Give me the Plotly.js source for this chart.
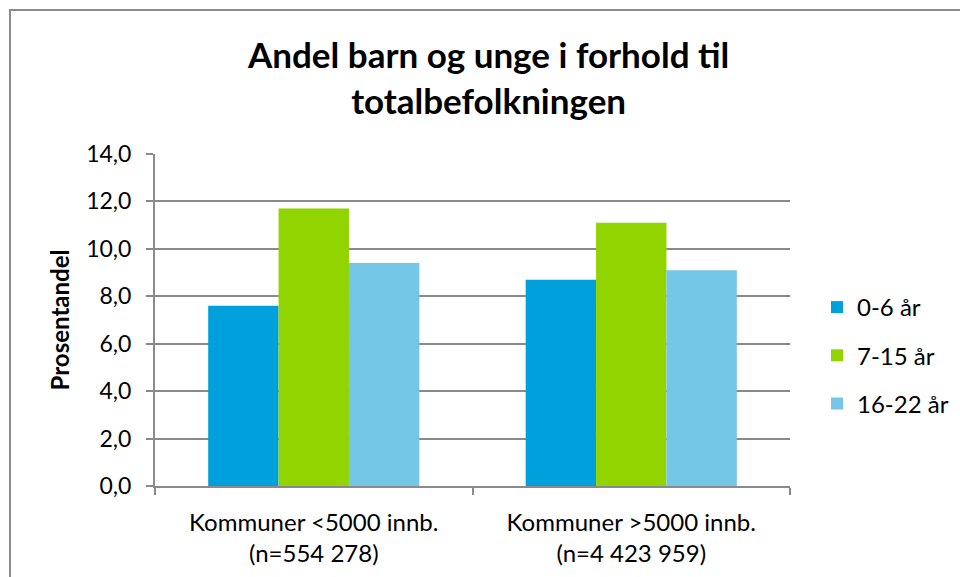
<!DOCTYPE html>
<html>
<head>
<meta charset="utf-8">
<script src="https://cdn.plot.ly/plotly-3.0.1.min.js"></script>
<style>
  html, body { margin: 0; padding: 0; background: #fff; overflow: hidden; }
  #frame { position: absolute; left: 9px; top: 9px; width: 980px; height: 600px;
           border-left: 2px solid #8a8a8a; border-top: 2px solid #8a8a8a; }
  #chart { position: absolute; left: 0; top: 0; width: 960px; height: 577px; }
</style>
</head>
<body>
<div id="frame"></div>
<div id="chart"></div>
<script>
const categories = ["Kommuner &lt;5000 innb.<br>(n=554 278)", "Kommuner &gt;5000 innb.<br>(n=4 423 959)"];
const seriesNames = ["0-6 år", "7-15 år", "16-22 år"];
const values06 = [7.6, 8.7];
const values715 = [11.7, 11.1];
const values1622 = [9.4, 9.1];
const colors = ["#00a0dd", "#92d400", "#73c6e5"];
const yTicks = [0, 2, 4, 6, 8, 10, 12, 14];

const allValues = [values06, values715, values1622];
const traces = allValues.map((v, i) => ({
  type: "bar",
  name: seriesNames[i],
  x: categories,
  y: v,
  legendgroup: "g" + i,
  marker: { color: colors[i], line: { width: 0 } },
  hoverinfo: "skip"
}));

const font = "Lato, 'Open Sans', sans-serif";
const layout = {
  width: 960, height: 577,
  paper_bgcolor: "rgba(0,0,0,0)",
  plot_bgcolor: "rgba(0,0,0,0)",
  margin: { l: 155, r: 170, t: 154, b: 91 },
  font: { family: font, color: "#000" },
  separators: ",.",
  barmode: "group",
  bargap: 0.335,
  bargroupgap: 0,
  title: {
    text: "<b>Andel barn og unge i forhold til<br>totalbefolkningen</b>",
    font: { family: font, size: 35, color: "#000" },
    x: 0.509, xref: "container", xanchor: "center",
    y: 1 - 68 / 577, yref: "container", yanchor: "middle"
  },
  xaxis: {
    type: "category",
    showline: true, linecolor: "#8a8a8a", linewidth: 2,
    ticks: "outside", tickson: "boundaries", ticklen: 7, tickcolor: "#8a8a8a", tickwidth: 2,
    ticklabelstandoff: 14,
    tickfont: { family: font, size: 24, color: "#000" },
    showgrid: false
  },
  yaxis: {
    range: [0, 14],
    tickvals: yTicks,
    tickformat: ".1f",
    showline: true, linecolor: "#8a8a8a", linewidth: 2,
    ticks: "outside", ticklen: 7, tickcolor: "#8a8a8a", tickwidth: 2,
    ticklabelstandoff: 10,
    tickfont: { family: font, size: 23, color: "#000" },
    showgrid: true, gridcolor: "#8a8a8a", gridwidth: 2,
    zeroline: false,
    title: { text: "<b>Prosentandel</b>", font: { family: font, size: 24, color: "#000" }, standoff: 10 }
  },
  showlegend: true,
  legend: {
    x: 817 / 960, xref: "container", xanchor: "left",
    y: 1 - 285 / 577, yref: "container", yanchor: "top",
    font: { family: font, size: 24, color: "#000" },
    tracegroupgap: 14,
    traceorder: "grouped",
    itemwidth: 30
  }
};

Plotly.newPlot("chart", traces, layout, { displayModeBar: false, staticPlot: true });
</script>
</body>
</html>
